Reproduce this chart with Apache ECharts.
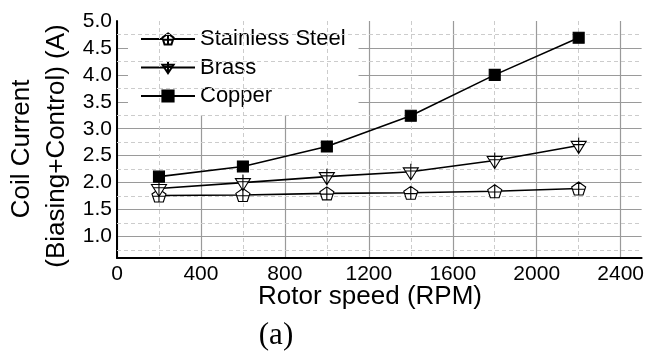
<!DOCTYPE html>
<html>
<head>
<meta charset="utf-8">
<script src="https://cdn.jsdelivr.net/npm/echarts@6/dist/echarts.min.js"></script>
<style>
  html, body { margin: 0; padding: 0; background: #fff; }
  #chart { width: 647px; height: 351px; }
</style>
</head>
<body>
<div id="chart"></div>
<script>
const speeds = [200, 600, 1000, 1400, 1800, 2200]
const stainless = [1.76, 1.77, 1.80, 1.81, 1.84, 1.89]
const brass = [1.89, 2.00, 2.11, 2.20, 2.41, 2.69]
const copper = [2.11, 2.30, 2.67, 3.24, 4.00, 4.69]
const seriesNames = ['Stainless Steel', 'Brass', 'Copper']
const xTitle = 'Rotor speed (RPM)'
const yTitle = ['Coil Current', '(Biasing+Control) (A)']
const caption = '(a)'

const font = 'Liberation Sans, Arial, sans-serif'
const solidGrid = '#9a9a9a'
const dashGrid = '#cccccc'
const none = 'rgba(0,0,0,0)'
const pentagonPlus = 'path://M50,0 L100,38 L81,100 L19,100 L0,38 Z M50,0 L50,100 M4,56 L96,56'
const trianglePlus = 'path://M0,25 L100,25 L50,100 Z M50,0 L50,100 M12,45 L88,45'

const pairs = (ys) => speeds.map((x, i) => [x, ys[i]])

// x ticks 0..2400 step 400 plus the 2500 end -> hide the line at the end
const xMajorColors = [solidGrid, solidGrid, solidGrid, solidGrid, solidGrid, solidGrid, solidGrid, none]
// x ticks 0..2400 step 200 plus 2500 -> dashed only at 200, 600, ...
const xMinorColors = []
for (let v = 0; v <= 2400; v += 200) {
  xMinorColors.push(v % 400 === 0 ? none : dashGrid)
}
xMinorColors.push(none)
// y ticks 0.6, 1.0 ... 5.0 -> no line at the top edge
const yMajorColors = [none, solidGrid, solidGrid, solidGrid, solidGrid, solidGrid, solidGrid, solidGrid, solidGrid, none]

const chart = echarts.init(document.getElementById('chart'), null, { renderer: 'canvas' })

const lineSeries = (name, ys, symbol, size, fill) => ({
  type: 'line',
  name: name,
  xAxisIndex: 0,
  yAxisIndex: 0,
  z: 6,
  data: pairs(ys),
  symbol: symbol,
  symbolSize: size,
  showAllSymbol: true,
  lineStyle: { color: '#000', width: 1.6 },
  itemStyle: { color: fill, borderColor: '#000', borderWidth: 1.1 },
  emphasis: { disabled: true },
})

const option = {
  backgroundColor: '#fff',
  animation: false,
  grid: { left: 117, right: 3, top: 21, bottom: 93 },
  legend: {
    orient: 'vertical',
    left: 128,
    top: 20,
    padding: [8, 13, 8, 12],
    backgroundColor: '#fff',
    itemWidth: 54,
    itemHeight: 14,
    itemGap: 6.5,
    textStyle: { fontSize: 22, lineHeight: 22, color: '#000', fontFamily: font },
    data: seriesNames,
  },
  xAxis: [
    {
      type: 'value',
      min: 0,
      max: 2500,
      interval: 400,
      axisLine: { show: true, lineStyle: { color: '#000', width: 2 } },
      axisTick: { show: false },
      axisLabel: {
        fontSize: 21,
        color: '#000',
        fontFamily: font,
        margin: 6,
        showMaxLabel: false,
        formatter: (v) => (v > 2450 ? '' : String(v)),
      },
      splitLine: { show: true, lineStyle: { color: xMajorColors, width: 1.2 } },
    },
    {
      type: 'value',
      min: 0,
      max: 2500,
      interval: 200,
      z: 5,
      axisLine: { show: false },
      axisTick: { show: false },
      axisLabel: { show: false },
      splitLine: { show: true, lineStyle: { color: xMinorColors, width: 1, type: [4, 3] } },
    },
  ],
  yAxis: [
    {
      type: 'value',
      min: 0.6,
      max: 5.0,
      splitNumber: 9,
      axisLine: { show: true, lineStyle: { color: '#000', width: 2 } },
      axisTick: { show: false },
      axisLabel: {
        fontSize: 21,
        color: '#000',
        fontFamily: font,
        margin: 5,
        formatter: (v) => (v < 0.99 ? '' : v.toFixed(1)),
      },
      splitLine: { show: true, lineStyle: { color: yMajorColors, width: 1.2 } },
    },
    {
      type: 'value',
      min: 0.6,
      max: 5.0,
      splitNumber: 9,
      z: 5,
      axisLine: { show: false },
      axisTick: { show: false },
      axisLabel: { show: false },
      splitLine: { show: false },
      minorTick: { show: true, splitNumber: 2, length: 0, lineStyle: { color: none } },
      minorSplitLine: { show: true, lineStyle: { color: dashGrid, width: 1, type: [4, 3] } },
    },
  ],
  graphic: [
    {
      type: 'text',
      x: 22,
      y: 149,
      rotation: Math.PI / 2,
      style: { text: yTitle[0], font: '26px ' + font, fill: '#000', align: 'center', verticalAlign: 'middle' },
    },
    {
      type: 'text',
      x: 57,
      y: 146,
      rotation: Math.PI / 2,
      style: { text: yTitle[1], font: '26px ' + font, fill: '#000', align: 'center', verticalAlign: 'middle' },
    },
    {
      type: 'text',
      x: 370,
      y: 297,
      style: { text: xTitle, font: '26px ' + font, fill: '#000', align: 'center', verticalAlign: 'middle' },
    },
    {
      type: 'text',
      x: 276,
      y: 336,
      style: { text: caption, font: '31px Liberation Serif, Times New Roman, serif', fill: '#000', align: 'center', verticalAlign: 'middle' },
    },
  ],
  series: [
    lineSeries(seriesNames[0], stainless, pentagonPlus, [14, 13], '#fff'),
    lineSeries(seriesNames[1], brass, trianglePlus, [15, 16], '#fff'),
    lineSeries(seriesNames[2], copper, 'rect', 11, '#000'),
  ],
}

chart.setOption(option)
</script>
</body>
</html>
